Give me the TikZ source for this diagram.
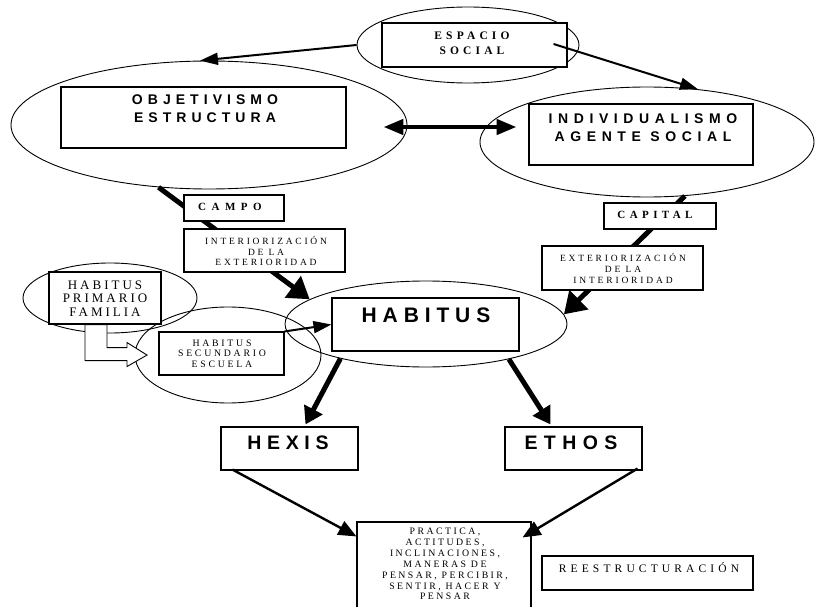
\documentclass[tikz,border=0pt]{standalone}
\usepackage{fontspec}
\setmainfont{Liberation Serif}
\newfontfamily\sansfam{Liberation Sans}
\newfontfamily\seriffam{Liberation Serif}
\usetikzlibrary{arrows.meta,shapes.geometric,calc}

\tikzset{
  oval/.style={draw, ellipse, inner sep=0pt, line width=0.9pt},
  box/.style={draw, fill=white, rectangle, inner sep=0pt, line width=1.1pt},
  lbl/.style n args={4}{font=#1\fontsize{#2}{#3}\selectfont\addfontfeature{LetterSpace=#4},
    inner sep=0pt, align=center},
  thinarrow/.style={line width=2pt, -{Triangle[length=18pt,width=12pt]}},
  medarrow/.style={line width=2.4pt, -{Triangle[length=18pt,width=15pt]}},
  fatarrow/.style={line width=5pt, -{Triangle[length=21pt,width=26pt]}},
  droparrow/.style={line width=5pt, -{Triangle[length=17pt,width=20pt]}},
  twoway/.style={line width=4.5pt, {Triangle[length=20pt,width=15pt]}-{Triangle[length=20pt,width=15pt]}},
  bentarrow/.style={draw, fill=white, line width=0.9pt, line join=miter},
}

\begin{document}
\begin{tikzpicture}[x=1pt, y=-1pt]
\useasboundingbox (0,0) rectangle (815,607);

% ovals
\node[oval, minimum width=222pt, minimum height=76pt]  (espE) at (468,45)  {};
\node[oval, minimum width=396pt, minimum height=128pt] (objE) at (209,125) {};
\node[oval, minimum width=334pt, minimum height=110pt] (indE) at (647,142) {};
\node[oval, minimum width=282pt, minimum height=86pt]  (habE) at (426,324) {};
\node[oval, minimum width=174pt, minimum height=70pt]  (priE) at (110,298) {};
\node[oval, minimum width=186pt, minimum height=96pt]  (secE) at (228,355) {};

% heavy connectors that run behind the label boxes
\draw[fatarrow] (objE.231) -- (habE.168);
\draw[fatarrow] (indE.305) -- (habE.4);

% boxes
\node[box, minimum width=185pt, minimum height=44pt] (espB)   at (474.5,45)   {};
\node[box, minimum width=285pt, minimum height=61pt] (objB)   at (203.5,117.5) {};
\node[box, minimum width=224pt, minimum height=61pt] (indB)   at (641,134.5)  {};
\node[box, minimum width=100pt, minimum height=26pt] (campoB) at (234,208)    {};
\node[box, minimum width=161pt, minimum height=43pt] (intB)   at (264.5,250.5) {};
\node[box, minimum width=187pt, minimum height=53pt] (habB)   at (425.5,324.5) {};
\node[box, minimum width=112pt, minimum height=26pt] (capB)   at (660,216)    {};
\node[box, minimum width=161pt, minimum height=44pt] (extB)   at (622.5,268)  {};
\node[box, minimum width=112pt, minimum height=52pt] (priB)   at (105,298)    {};
\node[box, minimum width=125pt, minimum height=43pt] (secB)   at (221.5,353.5) {};
\node[box, minimum width=137pt, minimum height=43pt] (hexB)   at (289.5,448.5) {};
\node[box, minimum width=137pt, minimum height=43pt] (ethB)   at (573.5,448.5) {};
\node[box, minimum width=174pt, minimum height=90pt] (praB)   at (444,567)    {};
\node[box, minimum width=211pt, minimum height=34pt] (reeB)   at (647.5,573)  {};

% labels
\node[lbl={\seriffam\bfseries}{11.5}{15}{36}] (espT) at (472,43) {ESPACIO\\SOCIAL};
\node[lbl={\sansfam\bfseries}{14}{18}{36}] (objT) at (205,109) {OBJETIVISMO\\ESTRUCTURA};
\node[lbl={\sansfam\bfseries}{14}{18.5}{40}] (indT) at (643,127.5) {INDIVIDUALISMO\\AGENTE SOCIAL};
\node[lbl={\seriffam\bfseries}{11}{13}{50}] (campoT) at (230,207) {CAMPO};
\node[lbl={\seriffam}{9.5}{10.5}{29}] (intT) at (266,251.2) {INTERIORIZACIÓN\\DE LA\\EXTERIORIDAD};
\node[lbl={\sansfam\bfseries}{21}{24}{28}] (habT) at (426,315) {HABITUS};
\node[lbl={\seriffam\bfseries}{11}{13}{40}] (capT) at (655,215) {CAPITAL};
\node[lbl={\seriffam}{9.5}{11}{30}] (extT) at (623,268) {EXTERIORIZACIÓN\\DE LA\\INTERIORIDAD};
\node[lbl={\seriffam}{13}{13.5}{23}] (priT) at (105,298.5) {HABITUS\\PRIMARIO\\FAMILIA};
\node[lbl={\seriffam}{9.8}{10.5}{28}] (secT) at (222,353.5) {HABITUS\\SECUNDARIO\\ESCUELA};
\node[lbl={\sansfam\bfseries}{19.5}{22}{29}] (hexT) at (288,443) {HEXIS};
\node[lbl={\sansfam\bfseries}{19.5}{22}{33}] (ethT) at (571,443) {ETHOS};
\node[lbl={\seriffam}{9.8}{10.83}{25}] (praT) at (445,564.2) {PRACTICA,\\ACTITUDES,\\INCLINACIONES,\\MANERAS DE\\PENSAR, PERCIBIR,\\SENTIR, HACER Y\\PENSAR};
\node[lbl={\seriffam}{11.5}{13}{36}] (reeT) at (649,568) {REESTRUCTURACIÓN};

% connector end points that sit inside shapes
\coordinate (espOut) at ($(espB.east)+(-14,-1)$);
\coordinate (dL) at ($(objE.east)+(-24,2)$);
\coordinate (dR) at ($(indE.west)+(37,-15)$);

% remaining connectors
\draw[thinarrow] (espE.west) -- (objE.98);
\draw[thinarrow] (espOut) -- (indE.46);
\draw[twoway] (dL) -- (dR);
\draw[thinarrow] (secB.north east) -- (habB.west);
\draw[droparrow] (habE.202) -- ($(hexB.north)+(16,-2)$);
\draw[droparrow] (habE.337) -- ($(ethB.north)+(-23,-2)$);
\draw[medarrow] ($(hexB.south west)+(12,-1)$) -- ($(praB.north west)+(0,15)$);
\draw[medarrow] ($(ethB.south east)+(-5,-2)$) -- ($(praB.north east)+(-9,16)$);

% bent outline arrow from the family box to the school oval
\draw[bentarrow] ($(priB.south)+(-20,0)$) -- ++(0,36) -- ++(42,0) -- ++(0,6)
  -- ++(20,-11.5) -- ++(-20,-12.5) -- ++(0,5) -- ++(-20,0) -- ++(0,-23) -- cycle;
\end{tikzpicture}
\end{document}
